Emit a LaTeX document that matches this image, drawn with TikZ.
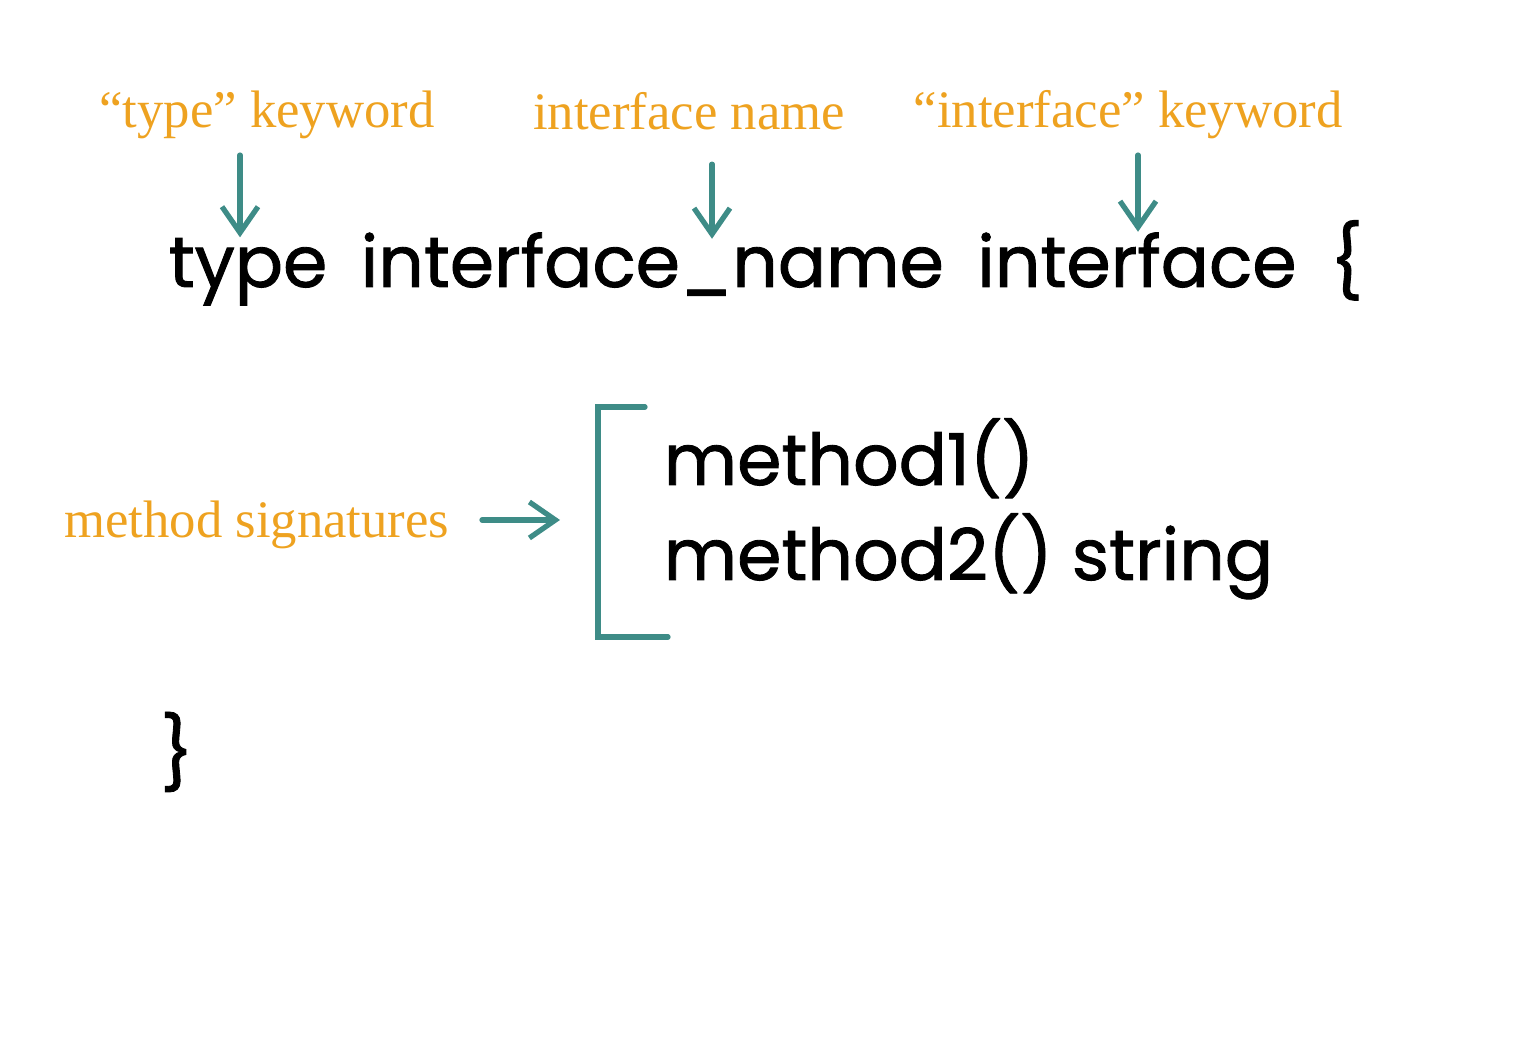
\documentclass[tikz,border=0pt]{standalone}
\usepackage{fontspec}
\setmainfont{Liberation Serif}
\setsansfont{Poppins}
\newfontfamily\codefam[FakeBold=1.2]{Poppins}
\usepackage{tikz}
\usetikzlibrary{arrows.meta,positioning}
\definecolor{labelorange}{RGB}{238,162,32}
\definecolor{arrowteal}{RGB}{62,140,135}
\newcommand{\codetxt}{\codefam\fontsize{20.3pt}{25pt}\selectfont}
\newcommand{\labeltxt}{\rmfamily\fontsize{15pt}{18pt}\selectfont}
\tikzstyle{pointer} = [arrowteal, line width=1.5pt, line cap=round, -{Straight Barb[length=2.6mm, width=3.6mm, line width=1.5pt]}]
\tikzstyle{bracket} = [arrowteal, line width=1.5pt, line cap=round]
\tikzstyle{tag} = [labelorange, font=\labeltxt, inner sep=0pt]
\tikzstyle{code} = [black, font=\codetxt, inner sep=0pt]

\begin{document}
\begin{tikzpicture}
        \useasboundingbox (0,0) rectangle (15.36,10.46);

        % labels on top
        \node (typelbl) [tag, anchor=base] at (2.67,9.18) {``type'' keyword};
        \node (namelbl) [tag, anchor=base] at (6.89,9.16) {interface name};
        \node (ifacelbl) [tag, anchor=base] at (11.28,9.18) {``interface'' keyword};
        \node (siglbl) [tag, anchor=base east] at (4.50,5.08) {method signatures};

        % first code line
        \node (kwtype) [code, anchor=base west] at (1.68,7.59) {type};
        \node (ifname) [code, base right=0.32cm of kwtype] {interface\_name};
        \node (kwiface) [code, base right=0.32cm of ifname] {interface};
        \node (lbrace) [code, base right=0.32cm of kwiface] {\{};

        % method signatures
        \node (meth1) [code, anchor=base west] at (6.63,5.61) {method1()};
        \node (meth2) [code, anchor=base west] at (6.63,4.66) {method2() string};
        \node (rbrace) [code] at (1.77,2.94) {\}};

        \coordinate (bracketmid) at (5.60,5.26);
        \draw [bracket] ([xshift=-1.8mm,yshift=7.8mm]meth1.base west) -| ([xshift=-6.5mm,yshift=-5.7mm]meth2.base west) -- ++(0.70,0);

        \draw [pointer] ([xshift=-2.7mm,yshift=-1.5mm]typelbl.south) -- ([xshift=-2.7mm]typelbl.south |- kwtype.north);
        \draw [pointer] ([xshift=2.3mm,yshift=-3.3mm]namelbl.south) -- ([xshift=2.3mm,yshift=-0.7mm]namelbl.south |- ifname.north);
        \draw [pointer] ([xshift=1mm,yshift=-1.5mm]ifacelbl.south) -- ([xshift=1mm]ifacelbl.south |- kwiface.north);
        \draw [pointer] ([xshift=3.2mm]siglbl.east |- bracketmid) -- (bracketmid);

    \end{tikzpicture}
\end{document}
